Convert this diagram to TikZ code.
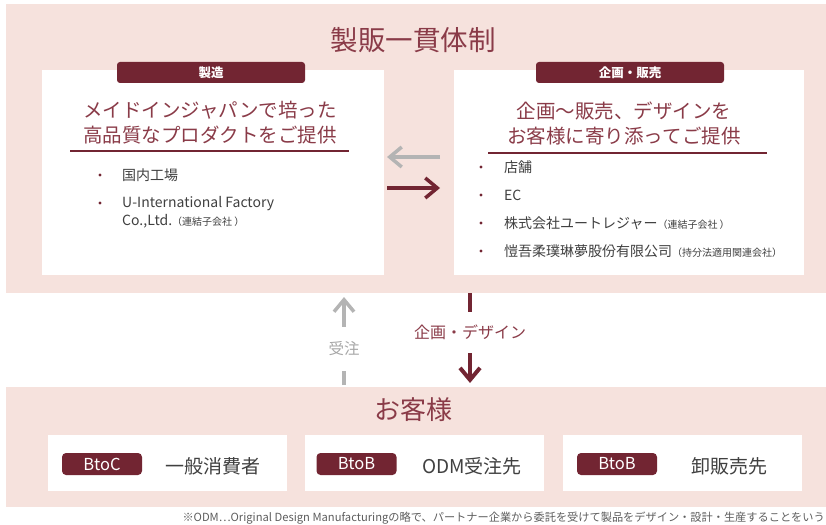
\documentclass[tikz,border=0pt]{standalone}
\usepackage{fontspec}
\setmainfont{Noto Sans CJK JP}
\usepackage{xcolor}
\usetikzlibrary{arrows.meta,positioning}
\definecolor{cpink}{RGB}{246,226,221}
\definecolor{cmaroon}{RGB}{114,37,50}
\definecolor{ctitle}{RGB}{138,59,72}
\definecolor{cgrey}{RGB}{180,180,180}
\definecolor{cgreytext}{RGB}{166,166,166}
\definecolor{ctext}{RGB}{64,64,64}
\protected\def\subnote#1{{\fontsize{10}{10}\selectfont#1}}

\tikzset{
  panel/.style={fill=cpink,inner sep=0pt,outer sep=0pt,anchor=north west},
  card/.style={fill=white,inner sep=0pt,outer sep=0pt,anchor=north west},
  tab/.style={fill=cmaroon,text=white,rounded corners=3pt,inner sep=0pt,minimum height=21pt},
  item/.style={anchor=west,align=left,inner sep=0pt,text=ctext,font=\fontsize{14}{18}\selectfont},
  flow/.style={line width=3.5pt,-{Straight Barb[length=12pt,width=20pt]}},
}

\begin{document}
\begin{tikzpicture}[x=1pt,y=-1pt]
\useasboundingbox (0,0) rectangle (826,524);

% upper block
\node[panel,minimum width=820pt,minimum height=289pt] (seihan) at (6,4) {};
\node[text=ctitle,font=\fontsize{27.5}{30}\selectfont] (title) at (413,40) {製販一貫体制};

\node[card,minimum width=342pt,minimum height=205pt] (seizo) at (42,70) {};
\node[card,minimum width=350pt,minimum height=205pt] (hanbai) at (454,70) {};
\node[tab,minimum width=188pt,font=\bfseries\fontsize{12.5}{12.5}\selectfont] (seizotab) at (211,72.5) {製造};
\node[tab,minimum width=188pt,font=\bfseries\fontsize{12.5}{12.5}\selectfont] (hanbaitab) at (630,72.5) {企画・販売};

\node[text=ctitle,align=center,font=\fontsize{19.5}{25}\selectfont] (seizohead) at (210,123) {メイドインジャパンで培った\\高品質なプロダクトをご提供};
\node[text=ctitle,align=center,font=\fontsize{19.5}{25}\selectfont] (hanbaihead) at (624,123) {企画〜販売、デザインを\\お客様に寄り添ってご提供};
\draw[cmaroon,line width=2pt] (70,151) -- (349,151);
\draw[cmaroon,line width=2pt] (488,153) -- (767,153);

\fill[cmaroon] (100,175) circle (1.7pt);
\node[item] (factory) at (122,175) {国内工場};
\fill[cmaroon] (100,203) circle (1.7pt);
\node[item] (uif) at (122,212) {U-International Factory\\Co.,Ltd.\subnote{（連結子会社 ）}};
\foreach \by/\txt in {
	167/店舗,
	195/EC,
	223/株式会社ユートレジャー\subnote{（連結子会社 ）},
	251/愷吾柔璞琳夢股份有限公司\subnote{（持分法適用関連会社）}
}{
    \fill[cmaroon] (481,\by) circle (1.7pt);
    \node[item] at (504,\by) {\txt};
}

\draw[flow,cgrey,shorten <=14pt,shorten >=3pt] ([yshift=15.5pt]hanbai.west) -- ([yshift=15.5pt]seizo.east);
\draw[flow,cmaroon,shorten <=3pt,shorten >=14pt] ([yshift=-15.5pt]seizo.east) -- ([yshift=-15.5pt]hanbai.west);

% lower block
\node[panel,minimum width=820pt,minimum height=120pt] (okyaku) at (6,387) {};
\node[text=ctitle,font=\fontsize{26}{28}\selectfont] (okyakutitle) at (413,410) {お客様};

\node[text=ctitle,inner sep=0pt,minimum height=41pt,font=\fontsize{16}{16}\selectfont] (design) at (470,332.5) {企画・デザイン};
\draw[cmaroon,line width=4pt] (seihan.south -| design) -- (design.north);
\draw[flow,cmaroon,line width=4pt,shorten >=4pt] (design.south) -- (okyaku.north -| design);

\node[text=cgreytext,inner sep=0pt,minimum height=44pt,font=\fontsize{15.5}{16}\selectfont] (juchu) at (344,349) {受注};
\draw[cgrey,line width=3.5pt,shorten <=2pt] (okyaku.north -| juchu) -- (juchu.south);
\draw[flow,cgrey,shorten >=4pt] (juchu.north) -- (seihan.south -| juchu);

\foreach \n/\x/\tag/\tx/\txt/\cx in {
	btoc/48/BtoC/102/一般消費者/213,
	odm/305/BtoB/356.5/ODM受注先/472,
	oroshi/563/BtoB/617/卸販売先/729
}{
    \node[card,minimum width=239pt,minimum height=56pt] (\n) at (\x,435) {};
    \node[tab,minimum width=80pt,minimum height=22pt,rounded corners=4pt,font=\fontsize{16.5}{16.5}\selectfont] (\n tag) at (\tx,464) {\tag};
    \node[text=ctext,font=\fontsize{19}{20}\selectfont] (\n txt) at (\cx,466) {\txt};
}

\node[anchor=base east,inner sep=0pt,text=ctext!85,font=\fontsize{11.2}{11.2}\selectfont] (note) at (825,521) {※ODM⋯Original Design Manufacturingの略で、パートナー企業から委託を受けて製品をデザイン・設計・生産することをいう};

\end{tikzpicture}
\end{document}
